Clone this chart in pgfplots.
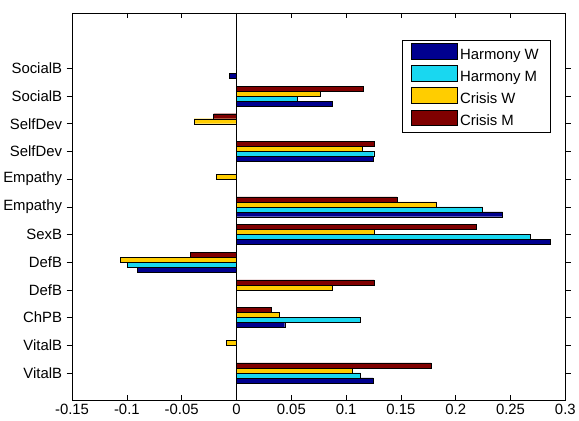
\documentclass[border=0pt]{standalone}
\usepackage{fontspec}
\setmainfont{Liberation Sans}
\usepackage{pgfplots}
\pgfplotsset{compat=1.18}
\definecolor{hw}{RGB}{0,0,143}
\definecolor{hm}{RGB}{25,215,240}
\definecolor{cw}{RGB}{255,205,0}
\definecolor{cm}{RGB}{128,0,0}
\pgfplotsset{mylegend/.style={legend image code/.code={\draw[##1,draw=black,line width=0.5pt] (0bp,-3.5bp) rectangle (46bp,12bp);}}}
\begin{document}
\begin{tikzpicture}
\begin{axis}[
  scale only axis, width=495bp, height=389bp,
  xmin=-0.15, xmax=0.3, ymin=0, ymax=14,
  xtick={-0.15,-0.1,-0.05,0,0.05,0.1,0.15,0.2,0.25,0.3},
  xticklabels={-0.15,-0.1,-0.05,0,0.05,0.1,0.15,0.2,0.25,0.3},
  ytick={1,2,3,4,5,6,7,8,9,10,11,12},
  yticklabels={VitalB,VitalB,ChPB,DefB,DefB,SexB,Empathy,Empathy,SelfDev,SelfDev,SocialB,SocialB},
  tick pos=both,
  tick align=inside, major tick length=5.5bp,
  tick style={black, line width=0.5pt},
  axis line style={black, line width=0.5pt},
  ticklabel style={font=\fontsize{15}{17}\selectfont},
  yticklabel style={xshift=-1bp},
  extra x ticks={0}, extra x tick labels={},
  extra x tick style={grid=major, major grid style={black, line width=0.6pt}},
  xbar, bar width=0.18,
  legend style={at={(rel axis cs:0.9697,0.9306)}, anchor=north east, draw=black, line width=0.5pt,
    font=\fontsize{15}{17}\selectfont, row sep=3bp, inner xsep=9bp, inner ysep=3bp,
    nodes={inner xsep=2.5bp, inner ysep=0bp, text height=11bp, text depth=3bp}},
  legend cell align=left,
]
\addplot[mylegend, fill=hw, draw=black, line width=0.4pt, bar shift=-0.27] coordinates {
 (0.1246,1) (0,2) (0.044,3) (0,4) (-0.0907,5) (0.2864,6) (0.2428,7) (0,8) (0.1246,9) (0,10) (0.0873,11) (-0.0067,12)};
\addplot[mylegend, fill=hm, draw=black, line width=0.4pt, bar shift=-0.09] coordinates {
 (0.1132,1) (0,2) (0.1132,3) (0,4) (-0.0997,5) (0.2683,6) (0.2246,7) (0,8) (0.1252,9) (0,10) (0.0557,11) (0,12)};
\addplot[mylegend, fill=cw, draw=black, line width=0.4pt, bar shift=0.09] coordinates {
 (0.1058,1) (-0.0094,2) (0.0386,3) (0.0873,4) (-0.1061,5) (0.1256,6) (0.1823,7) (-0.0185,8) (0.1148,9) (-0.0386,10) (0.0766,11) (0,12)};
\addplot[mylegend, fill=cm, draw=black, line width=0.4pt, bar shift=0.27] coordinates {
 (0.1776,1) (0,2) (0.0316,3) (0.1256,4) (-0.042,5) (0.2186,6) (0.1464,7) (0,8) (0.1256,9) (-0.0208,10) (0.1152,11) (0,12)};
\legend{Harmony W,Harmony M,Crisis W,Crisis M}
\path (rel axis cs:0,1) ++(-72bp,13bp) coordinate (bbA);
\path (rel axis cs:1,0) ++(12bp,-20bp) coordinate (bbB);
\end{axis}
\path (bbA) rectangle (bbB);
\end{tikzpicture}
\end{document}
